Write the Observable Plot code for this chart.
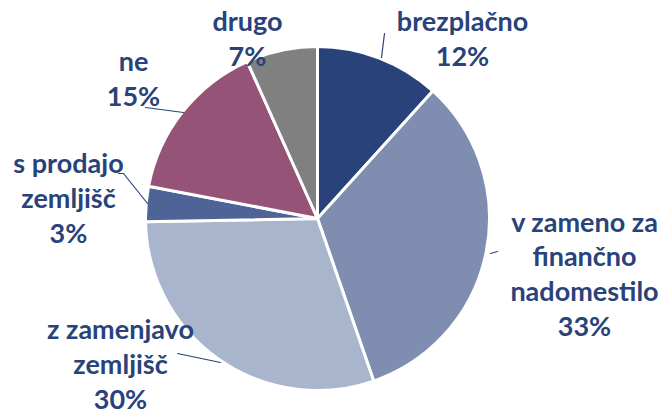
<!DOCTYPE html>
<html>
<head>
<meta charset="utf-8">
<script src="https://cdn.jsdelivr.net/npm/d3@7"></script>
<script src="https://cdn.jsdelivr.net/npm/@observablehq/plot@0.6"></script>
<style>
  html, body { margin: 0; padding: 0; background: #ffffff; }
  #chart svg { display: block; }
</style>
</head>
<body>
<div id="chart"></div>
<script>
// ---- data ----
const categories = ["brezplačno", "v zameno za finančno nadomestilo", "z zamenjavo zemljišč", "s prodajo zemljišč", "ne", "drugo"];
const shares = [11.7, 33.0, 30.0, 3.3, 15.3, 6.7];            // slice sizes
const labelTexts = ["brezplačno\n12%", "v zameno za\nfinančno\nnadomestilo\n33%", "z zamenjavo\nzemljišč\n30%", "s prodajo\nzemljišč\n3%", "ne\n15%", "drugo\n7%"];

// ---- styles / layout ----
const colors = ["#29437A", "#7F8DB0", "#A9B4CD", "#4F6496", "#955377", "#808080"];
const textColor = "#29437A";
const W = 661, H = 412;
const CX = 317.5, CY = 218.5, R = 172;
const labelAnchors = [[462, 65], [584, 335], [120, 408], [68, 242], [133, 105], [247, 65]]; // last-line baseline
const leaderPaths = [
  [[381, 57], [384, 33]],
  [[490, 253], [497, 251]],
  [[220, 362], [177, 353]],
  [[147, 203], [123, 173], [118, 173]],
  [[183, 112], [145, 107]],
  []
];

const table = categories.map((c, i) => ({category: c, share: shares[i]}));
const slices = d3.pie().sort(null).value(d => d.share)(table);
const labels = categories.map((c, i) => ({category: c, text: labelTexts[i], x: labelAnchors[i][0], y: labelAnchors[i][1]}));
const leaders = categories.flatMap((c, i) => leaderPaths[i].map(p => ({category: c, x: p[0], y: p[1]})));

const pie = Plot.dot(slices, {
  x: () => CX,
  y: () => CY,
  fill: d => d.data.category,
  render(index, scales, values) {
    const r = scales.x(CX + R) - scales.x(CX);
    const arc = d3.arc().innerRadius(0).outerRadius(r);
    const g = d3.create("svg:g");
    g.selectAll("path").data(index).join("path")
      .attr("transform", i => `translate(${values.x[i]},${values.y[i]})`)
      .attr("d", i => arc(slices[i]))
      .attr("fill", i => values.fill[i])
      .attr("stroke", "#ffffff")
      .attr("stroke-width", 3)
      .attr("stroke-linejoin", "round");
    return g.node();
  }
});

const chart = Plot.plot({
  width: W,
  height: H,
  margin: 0,
  style: {background: "#ffffff"},
  x: {type: "linear", domain: [0, W], range: [0, W], axis: null},
  y: {type: "linear", domain: [0, H], range: [0, H], axis: null},
  color: {domain: categories, range: colors},
  marks: [
    pie,
    Plot.line(leaders, {x: "x", y: "y", z: "category", stroke: textColor, strokeWidth: 1.2}),
    Plot.text(labels, {
      x: "x", y: "y", text: "text",
      fontSize: 27, fontWeight: "bold", fontFamily: "Lato",
      fill: textColor, textAnchor: "middle", lineAnchor: "bottom", lineHeight: 1.28
    })
  ]
});
document.getElementById("chart").appendChild(chart);
</script>
</body>
</html>
